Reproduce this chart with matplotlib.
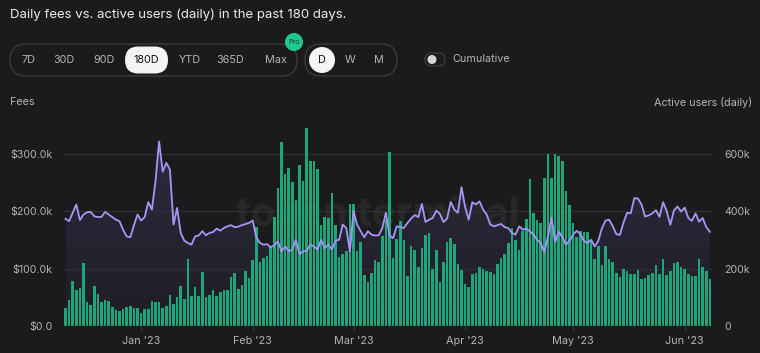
import matplotlib
matplotlib.use("Agg")
import matplotlib.pyplot as plt
import matplotlib.dates as mdates
from matplotlib.patches import FancyBboxPatch, Circle
from matplotlib.colors import LinearSegmentedColormap
import numpy as np
import pandas as pd

plt.rcParams['font.family'] = ['Inter', 'DejaVu Sans']

# daily fees in $k, 180 days starting 2022-12-11
fees_dec = [32, 45, 79, 63, 66, 109, 41, 36, 70, 56, 41, 45, 43, 33, 27, 26, 30, 33, 35, 32, 31]
fees_jan = [22, 29, 29, 44, 41, 41, 31, 35, 54, 39, 50, 70, 47, 117, 52, 68, 52, 94, 50, 54, 63,
            52, 60, 63, 63, 86, 92, 65, 71, 95, 83]
fees_feb = [114, 172, 112, 118, 122, 140, 190, 240, 321, 264, 275, 251, 220, 281, 252, 344, 288, 288,
            273, 175, 190, 188, 232, 176, 120, 125, 130, 213]
fees_mar = [213, 131, 147, 89, 76, 93, 115, 112, 157, 185, 302, 118, 152, 182, 150, 87, 139, 132,
            102, 135, 158, 161, 99, 133, 76, 111, 146, 153, 142, 108, 97]
fees_apr = [73, 68, 91, 93, 102, 100, 96, 94, 91, 108, 118, 125, 144, 171, 149, 133, 165, 187,
            256, 196, 185, 180, 258, 299, 257, 299, 296, 288, 235, 211]
fees_may = [180, 155, 166, 163, 164, 148, 117, 140, 107, 140, 116, 112, 92, 85, 100, 96, 90, 91,
            97, 81, 84, 88, 92, 106, 90, 116, 88, 96, 109, 112, 103]
fees_jun = [99, 91, 87, 87, 116, 103, 96, 81]

# daily active users in k
users_dec = [373, 365, 394, 423, 369, 388, 396, 397, 382, 379, 380, 397, 388, 379, 370, 365, 335,
             312, 309, 350, 388]
users_jan = [367, 379, 431, 405, 504, 642, 537, 568, 545, 353, 411, 324, 297, 289, 283, 312, 315,
             330, 316, 324, 327, 339, 332, 341, 347, 351, 344, 346, 351, 355, 359]
users_feb = [367, 309, 289, 283, 285, 274, 281, 295, 260, 277, 260, 266, 300, 250, 260, 262, 283,
             277, 266, 300, 271, 283, 266, 297, 300, 353, 341, 260]
users_mar = [400, 353, 330, 309, 330, 318, 315, 316, 341, 394, 315, 306, 347, 344, 341, 359, 374,
             386, 379, 425, 362, 370, 376, 402, 390, 362, 374, 432, 405, 394, 483]
users_apr = [414, 370, 431, 423, 434, 405, 388, 353, 347, 351, 355, 344, 341, 324, 318, 347, 336,
             338, 330, 318, 300, 288, 257, 310, 377, 292, 328, 310, 283, 296]
users_may = [319, 331, 321, 296, 289, 300, 277, 296, 340, 367, 370, 348, 320, 317, 360, 394, 392,
             445, 444, 423, 381, 385, 392, 403, 380, 431, 400, 352, 402, 416, 398]
users_jun = [412, 376, 366, 392, 363, 376, 344, 328]

fees = np.array(fees_dec + fees_jan + fees_feb + fees_mar + fees_apr + fees_may + fees_jun) * 1000
users = np.array(users_dec + users_jan + users_feb + users_mar + users_apr + users_may + users_jun) * 1000
dates = pd.date_range('2022-12-11', periods=len(fees), freq='D')
x = mdates.date2num(dates)

BG = '#1b1b1d'
GRID = '#2f2f32'
BAR = '#1ea67b'
LINE = '#a896f7'
TXT = '#b4b4b6'

fig = plt.figure(figsize=(7.6, 3.53), dpi=100, facecolor=BG)
W, H = 760, 353
ax = fig.add_axes([63.7 / W, 27 / H, 648 / W, 208 / H])
axf = ax.twinx()
ax2 = ax.twinx()
axf.set_zorder(ax.get_zorder() - 1)
ax.set_zorder(axf.get_zorder() + 1)
ax2.set_zorder(ax.get_zorder() + 1)
axf.set_facecolor(BG)
ax.patch.set_visible(False)
ax2.patch.set_visible(False)

fmax = 362000
ax.set_ylim(0, fmax)
axf.set_ylim(0, fmax * 2)
ax2.set_ylim(0, fmax * 2)
ax.set_xlim(x[0] - 0.5, x[-1] + 0.5)

# watermark
ax.text(0.5, 0.53, 'token terminal_', transform=ax.transAxes, ha='center', va='center',
        fontsize=29, color='#28282a', fontweight='bold', zorder=0)

ax.bar(x, fees, width=0.72, color=BAR, zorder=2, linewidth=0)

# gradient fill below the users line
area = axf.fill_between(x, users, 0, facecolor='none', edgecolor='none')
cmap = LinearSegmentedColormap.from_list('g', ['#1f1e24', '#2d2a40'])
grad = np.linspace(1, 0, 256).reshape(-1, 1)
im = axf.imshow(grad, extent=[x[0], x[-1], 0, users.max()], aspect='auto', cmap=cmap,
                origin='upper', zorder=1)
im.set_clip_path(area.get_paths()[0], transform=axf.transData)
axf.set_xlim(ax.get_xlim())

ax2.plot(x, users, color=LINE, lw=1.3, zorder=5, solid_joinstyle='round')
ax2.set_xlim(ax.get_xlim())

# grid and ticks
for v in [100000, 200000, 300000]:
    ax.axhline(v, color=GRID, lw=1, zorder=1)
ax.axhline(0, color='#3a3a3d', lw=1, zorder=3)
ax.set_yticks([0, 100000, 200000, 300000])
ax.set_yticklabels(['$0.0', '$100.0k', '$200.0k', '$300.0k'])
ax2.set_yticks([0, 200000, 400000, 600000])
ax2.set_yticklabels(['0', '200k', '400k', '600k'])
axf.set_yticks([])
ax.xaxis.set_major_locator(mdates.MonthLocator())
ax.xaxis.set_major_formatter(mdates.DateFormatter("%b '%y"))
for a in (ax, ax2, axf):
    for s in a.spines.values():
        s.set_visible(False)
ax.tick_params(axis='y', length=0, colors=TXT, labelsize=7.6, pad=8)
ax2.tick_params(axis='y', length=0, colors=TXT, labelsize=7.6, pad=9)
ax.tick_params(axis='x', length=3, color='#444447', colors=TXT, labelsize=7.8, pad=4)
axf.tick_params(axis='x', length=0, labelbottom=False)
ax2.tick_params(axis='x', length=0, labelbottom=False)

# overlay in pixel coordinates for the header controls
ov = fig.add_axes([0, 0, 1, 1], zorder=10)
ov.set_xlim(0, W)
ov.set_ylim(H, 0)
ov.axis('off')
ov.patch.set_visible(False)

ov.text(10, 15, 'Daily fees vs. active users (daily) in the past 180 days.', color='#ececec',
        fontsize=9.5, va='center', ha='left')

ov.add_patch(FancyBboxPatch((10, 44), 287, 32, boxstyle='round,pad=0,rounding_size=16',
                            fc='none', ec='#3b3b3e', lw=1))
ov.add_patch(FancyBboxPatch((125, 46.5), 43, 27, boxstyle='round,pad=0,rounding_size=13.5',
                            fc='#f4f4f4', ec='none'))
ranges = ['7D', '30D', '90D', '180D', 'YTD', '365D', 'Max']
rx = [28, 64, 104, 146, 190, 230, 276]
for lab, px in zip(ranges, rx):
    ov.text(px, 60, lab, ha='center', va='center', fontsize=7.8,
            color='#111111' if lab == '180D' else TXT)
ov.add_patch(Circle((294, 42), 9, fc='#1ec98f', ec='none'))
ov.text(294, 42, 'Pro', ha='center', va='center', fontsize=5, color='#123a2a')

ov.add_patch(FancyBboxPatch((305, 44), 92, 32, boxstyle='round,pad=0,rounding_size=16',
                            fc='none', ec='#3b3b3e', lw=1))
ov.add_patch(Circle((322, 60), 13, fc='#f4f4f4', ec='none'))
for lab, px in zip(['D', 'W', 'M'], [322, 350, 379]):
    ov.text(px, 60, lab, ha='center', va='center', fontsize=7.8,
            color='#111111' if lab == 'D' else TXT)

ov.add_patch(FancyBboxPatch((425, 53), 20, 13, boxstyle='round,pad=0,rounding_size=6.5',
                            fc='#1b1b1d', ec='#3b3b3e', lw=1))
ov.add_patch(Circle((432, 59.5), 4.5, fc='#d6d6d6', ec='none'))
ov.text(452, 59, 'Cumulative', ha='left', va='center', fontsize=7.8, color=TXT)

ov.text(10, 102, 'Fees', ha='left', va='center', fontsize=7.8, color=TXT)
ov.text(752, 102, 'Active users (daily)', ha='right', va='center', fontsize=7.8, color=TXT)

fig.savefig('out.png', dpi=100, facecolor=BG)
